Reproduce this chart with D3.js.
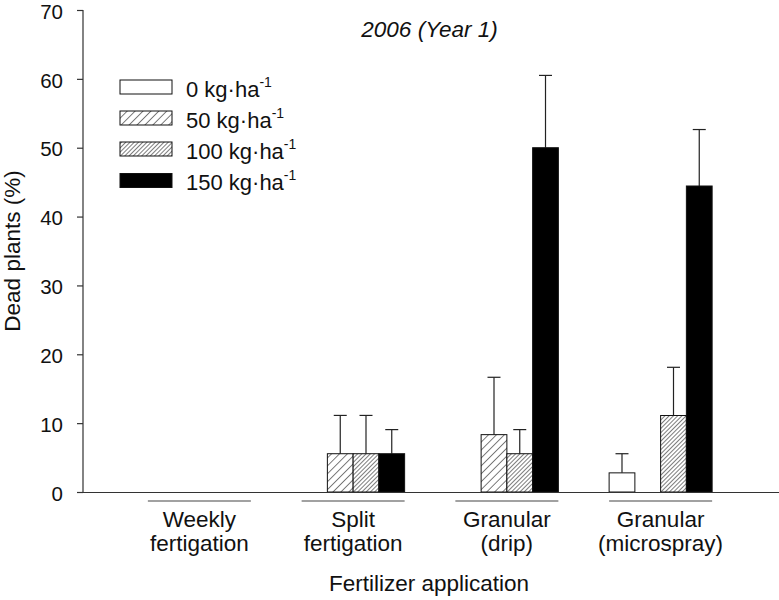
<!DOCTYPE html>
<html><head><meta charset="utf-8">
<script src="https://cdn.jsdelivr.net/npm/d3@7"></script>
<style>body{margin:0;background:#fff}svg{display:block}text{font-family:"Liberation Sans",Arial,sans-serif;fill:#111}</style>
</head><body><svg id="c" width="779" height="600"></svg>
<script>
const groups = ["Weekly fertigation","Split fertigation","Granular (drip)","Granular (microspray)"];
const groupLines = [["Weekly","fertigation"],["Split","fertigation"],["Granular","(drip)"],["Granular","(microspray)"]];
const rates = ["0","50","100","150"];
const means = [
  [0, 0, 0, 0],
  [0, 5.56, 5.56, 5.56],
  [0, 8.33, 5.56, 50.0],
  [2.78, 0, 11.11, 44.44]
];
const errs = [
  [0, 0, 0, 0],
  [0, 5.56, 5.56, 3.5],
  [0, 8.33, 3.5, 10.5],
  [2.78, 0, 7.0, 8.2]
];
const yTicks = [0,10,20,30,40,50,60,70];

const svg = d3.select("#c");
const y = d3.scaleLinear().domain([0,70]).range([492,10]);
const x0 = d3.scaleBand().domain(groups).range([122.5,737.5]).paddingInner(0.33).paddingOuter(0.165);
const x1 = d3.scaleBand().domain(rates).range([0,x0.bandwidth()]);

const defs = svg.append("defs");
function hatch(id, w){
  const p = defs.append("pattern").attr("id",id).attr("patternUnits","userSpaceOnUse")
    .attr("width",w).attr("height",w).attr("patternTransform","rotate(45)");
  p.append("rect").attr("width",w).attr("height",w).attr("fill","#fff");
  p.append("line").attr("x1",0).attr("y1",0).attr("x2",0).attr("y2",w).attr("stroke","#111").attr("stroke-width",1.1);
}
hatch("h50",5.6); hatch("h100",3.0);
const fills = {"0":"#fff","50":"url(#h50)","100":"url(#h100)","150":"#000"};

// bars
groups.forEach((g,gi)=>{
  const gg = svg.append("g").attr("transform",`translate(${x0(g)},0)`);
  rates.forEach((r,ri)=>{
    const v = means[gi][ri];
    if(v<=0) return;
    const e = errs[gi][ri];
    const cx = x1(r)+x1.bandwidth()/2;
    gg.append("line").attr("x1",cx).attr("x2",cx).attr("y1",y(v)).attr("y2",y(v+e)).attr("stroke","#222").attr("stroke-width",1.2);
    gg.append("line").attr("x1",cx-6.5).attr("x2",cx+6.5).attr("y1",y(v+e)).attr("y2",y(v+e)).attr("stroke","#222").attr("stroke-width",1.2);
    gg.append("rect").attr("x",x1(r)).attr("width",x1.bandwidth()).attr("y",y(v)).attr("height",y(0)-y(v))
      .attr("fill",fills[r]).attr("stroke","#111").attr("stroke-width",1);
  });
});

// y axis
const ya = svg.append("g").attr("transform","translate(83,0)").call(d3.axisLeft(y).tickValues(yTicks).tickSize(6).tickPadding(14));
ya.selectAll("path,line").attr("stroke","#333").attr("stroke-width",1.2);
ya.selectAll("text").attr("font-size",20.5).attr("dy","0.4em").attr("fill","#111").style("font-family","Liberation Sans, Arial, sans-serif");
ya.select(".domain").attr("d","M-6,10.5H0V492");
// x axis line
svg.append("line").attr("x1",83).attr("x2",779).attr("y1",492.5).attr("y2",492.5).attr("stroke","#333").attr("stroke-width",1.2);

// group underlines and labels
groups.forEach((g,gi)=>{
  const xs = x0(g), w = x0.bandwidth();
  svg.append("line").attr("x1",xs).attr("x2",xs+w).attr("y1",501).attr("y2",501).attr("stroke","#444").attr("stroke-width",1.2);
  const t = svg.append("text").attr("x",xs+w/2).attr("text-anchor","middle").attr("font-size",22.5);
  t.append("tspan").attr("x",xs+w/2).attr("y",527).text(groupLines[gi][0]);
  t.append("tspan").attr("x",xs+w/2).attr("y",551).text(groupLines[gi][1]);
});

svg.append("text").attr("x",429).attr("y",591).attr("text-anchor","middle").attr("font-size",22.5).text("Fertilizer application");
svg.append("text").attr("transform","translate(20,251) rotate(-90)").attr("text-anchor","middle").attr("font-size",22.5).text("Dead plants (%)");
svg.append("text").attr("x",429.5).attr("y",37).attr("text-anchor","middle").attr("font-size",22.5).attr("font-style","italic").text("2006 (Year 1)");

// legend
const legY = [87,118,149,180.5];
rates.forEach((r,i)=>{
  svg.append("rect").attr("x",120).attr("y",legY[i]-7).attr("width",52).attr("height",14)
    .attr("fill",fills[r]).attr("stroke","#111").attr("stroke-width",1);
  const t = svg.append("text").attr("x",186).attr("y",legY[i]+9.5).attr("font-size",22);
  t.append("tspan").text(r+" kg\u00b7ha");
  t.append("tspan").attr("dy",-10).attr("font-size",14).text("-1");
});
</script></body></html>
